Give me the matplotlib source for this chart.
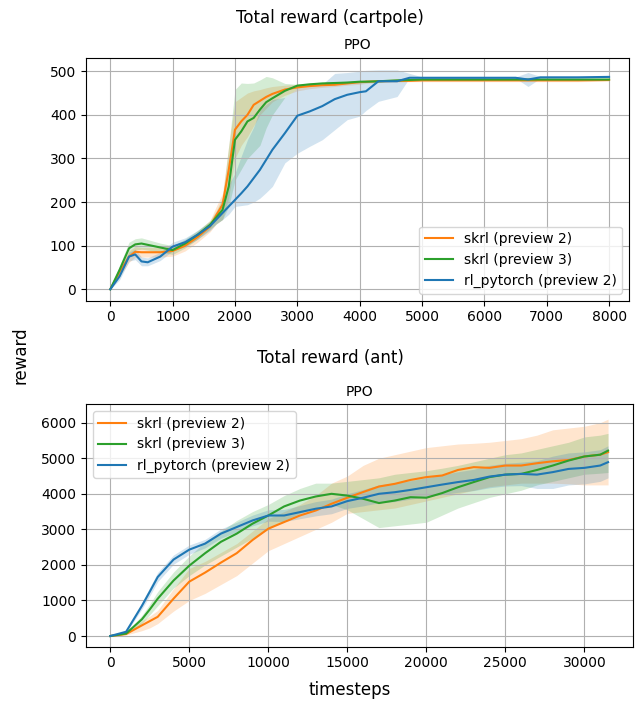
import matplotlib
matplotlib.use('Agg')
import numpy as np
import matplotlib.pyplot as plt

# cartpole data (timesteps, mean, lower, upper)
cp_x = [0, 150, 300, 400, 500, 600, 800, 1000, 1200, 1400, 1600, 1700, 1800, 1900, 2000,
        2100, 2200, 2300, 2400, 2500, 2600, 2800, 3000, 3200, 3400, 3600, 3800, 4000, 4100,
        4300, 4600, 4800, 5000, 5500, 6000, 6500, 6700, 6900, 7500, 8000]

cp_p2 = [0, 40, 75, 86, 85, 85, 85, 88, 100, 120, 144, 170, 194, 274, 366,
         385, 400, 423, 432, 441, 448, 458, 463, 466, 468, 469, 472, 475, 476,
         477, 478, 478, 479, 479, 479, 479, 479, 479, 479, 480]
cp_p2_lo = [0, 30, 62, 74, 74, 74, 74, 76, 88, 108, 132, 150, 160, 210, 300,
            330, 350, 375, 400, 415, 430, 445, 455, 460, 463, 465, 468, 470, 472,
            474, 475, 476, 476, 476, 476, 476, 476, 476, 476, 477]
cp_p2_hi = [0, 50, 88, 98, 96, 96, 96, 100, 112, 132, 158, 190, 220, 330, 430,
            440, 450, 455, 458, 462, 465, 468, 470, 472, 474, 475, 477, 478, 479,
            480, 481, 481, 482, 482, 482, 482, 482, 482, 482, 483]

cp_p3 = [0, 45, 94, 103, 105, 102, 96, 90, 105, 125, 148, 165, 182, 236, 343,
         362, 385, 393, 412, 429, 438, 455, 467, 470, 472, 473, 474, 476, 476,
         477, 479, 480, 481, 481, 481, 481, 481, 481, 481, 481]
cp_p3_lo = [0, 35, 80, 90, 92, 90, 85, 80, 95, 115, 138, 150, 160, 190, 250,
            275, 300, 315, 330, 370, 400, 440, 460, 465, 468, 470, 472, 473, 474,
            475, 477, 478, 479, 479, 479, 479, 479, 479, 479, 479]
cp_p3_hi = [0, 55, 108, 116, 118, 114, 106, 100, 115, 135, 158, 180, 210, 330, 458,
            473, 472, 473, 480, 488, 485, 472, 470, 473, 475, 476, 477, 478, 478,
            479, 481, 482, 483, 483, 483, 483, 483, 483, 483, 483]

cp_rl = [0, 30, 75, 80, 64, 62, 75, 98, 108, 125, 145, 160, 175, 190, 205,
         220, 236, 255, 274, 297, 320, 358, 398, 408, 420, 436, 446, 452, 454,
         477, 477, 485, 485, 485, 485, 485, 481, 486, 486, 487]
cp_rl_lo = [0, 22, 65, 68, 54, 54, 66, 88, 98, 115, 135, 150, 160, 172, 190,
            192, 194, 200, 209, 222, 236, 290, 312, 328, 343, 366, 389, 397, 410,
            431, 442, 485, 484, 484, 484, 484, 465, 484, 485, 486]
cp_rl_hi = [0, 38, 85, 92, 74, 72, 85, 108, 118, 135, 155, 172, 190, 240, 266,
            305, 343, 372, 412, 424, 435, 440, 460, 465, 470, 495, 497, 500, 502,
            503, 503, 495, 487, 487, 487, 487, 497, 488, 488, 488]

# ant data
ant_x = [0, 1000, 2000, 2500, 3000, 4000, 5000, 6000, 7000, 8000, 9000, 10000, 11000,
         12000, 13000, 14000, 15000, 16000, 17000, 18000, 19000, 20000, 21000, 22000,
         23000, 24000, 25000, 26000, 27000, 28000, 29000, 30000, 31000, 31500]

ant_p2 = [0, 56, 300, 420, 540, 1050, 1530, 1785, 2065, 2330, 2700, 3020, 3205,
          3390, 3530, 3720, 3890, 4050, 4205, 4280, 4390, 4470, 4515, 4670,
          4750, 4730, 4795, 4795, 4860, 4915, 4950, 5050, 5100, 5170]
ant_p2_lo = [0, 30, 150, 230, 350, 700, 1000, 1200, 1450, 1700, 2050, 2400, 2600,
             2800, 3000, 3200, 3450, 3500, 3550, 3600, 3700, 3800, 3900, 4000,
             4100, 4200, 4250, 4300, 4300, 4300, 4280, 4250, 4250, 4250]
ant_p2_hi = [0, 90, 420, 560, 720, 1330, 1900, 2100, 2350, 2600, 2950, 3300, 3500,
             3700, 3950, 4300, 4500, 4800, 5000, 5100, 5200, 5300, 5350, 5400,
             5420, 5450, 5500, 5550, 5650, 5800, 5850, 5900, 6000, 6100]

ant_p3 = [0, 70, 470, 750, 1050, 1560, 1980, 2330, 2650, 2880, 3160, 3390, 3645,
          3810, 3925, 4000, 3950, 3860, 3740, 3810, 3905, 3890, 4020, 4185,
          4330, 4470, 4540, 4560, 4670, 4795, 4935, 5050, 5100, 5215]
ant_p3_lo = [0, 50, 350, 600, 850, 1350, 1700, 2000, 2250, 2500, 2750, 3000, 3250,
             3450, 3600, 3700, 3550, 3300, 3050, 3100, 3150, 3200, 3400, 3600,
             3750, 3900, 4000, 4100, 4250, 4350, 4450, 4550, 4580, 4600]
ant_p3_hi = [0, 90, 580, 900, 1250, 1800, 2250, 2650, 2950, 3250, 3500, 3700, 3950,
             4150, 4300, 4300, 4350, 4400, 4450, 4550, 4600, 4650, 4720, 4800,
             4900, 5000, 5100, 5150, 5250, 5350, 5450, 5600, 5650, 5700]

ant_rl = [0, 120, 850, 1250, 1660, 2150, 2430, 2600, 2880, 3065, 3250, 3390, 3390,
          3485, 3580, 3645, 3795, 3890, 4000, 4045, 4110, 4185, 4260, 4330,
          4390, 4485, 4540, 4560, 4540, 4610, 4700, 4730, 4795, 4890]
ant_rl_lo = [0, 90, 760, 1130, 1530, 2020, 2300, 2480, 2750, 2930, 3100, 3230, 3220,
             3300, 3380, 3440, 3590, 3660, 3750, 3780, 3850, 3920, 3980, 4040,
             4090, 4170, 4220, 4230, 4150, 4150, 4250, 4280, 4350, 4450]
ant_rl_hi = [0, 150, 940, 1370, 1790, 2280, 2560, 2720, 3010, 3200, 3400, 3550, 3560,
             3670, 3780, 3850, 4000, 4120, 4250, 4310, 4370, 4450, 4540, 4620,
             4690, 4800, 4860, 4890, 4930, 5060, 5150, 5180, 5240, 5350]

labels = ['skrl (preview 2)', 'skrl (preview 3)', 'rl_pytorch (preview 2)']
colors = ['tab:orange', 'tab:green', 'tab:blue']

fig = plt.figure(figsize=(6.35, 7.02), dpi=100)
ax1 = fig.add_axes([0.1354, 0.5717, 0.8552, 0.3461])
ax2 = fig.add_axes([0.1354, 0.0788, 0.8615, 0.3457])

cp = [(cp_p2, cp_p2_lo, cp_p2_hi), (cp_p3, cp_p3_lo, cp_p3_hi), (cp_rl, cp_rl_lo, cp_rl_hi)]
ant = [(ant_p2, ant_p2_lo, ant_p2_hi), (ant_p3, ant_p3_lo, ant_p3_hi), (ant_rl, ant_rl_lo, ant_rl_hi)]

for ax, xs, series in [(ax1, cp_x, cp), (ax2, ant_x, ant)]:
    for (m, lo, hi), c, lab in zip(series, colors, labels):
        ax.plot(xs, m, color=c, linewidth=1.5, label=lab)
        ax.fill_between(xs, lo, hi, color=c, alpha=0.2, linewidth=0)
    ax.grid(True)
    ax.set_title('PPO', fontsize=10)

ax1.set_xlim(-390, 8320)
ax1.set_ylim(-26, 531)
ax1.set_xticks(range(0, 8001, 1000))
ax1.set_yticks(range(0, 501, 100))
ax1.legend(loc='lower right')

ax2.set_xlim(-1540, 33080)
ax2.set_ylim(-300, 6526)
ax2.set_xticks(range(0, 30001, 5000))
ax2.set_yticks(range(0, 6001, 1000))
ax2.legend(loc='upper left')

fig.text(0.52, 0.974, 'Total reward (cartpole)', ha='center', va='center', fontsize=12)
fig.text(0.521, 0.49, 'Total reward (ant)', ha='center', va='center', fontsize=12)
fig.text(0.0315, 0.494, 'reward', rotation=90, ha='center', va='center', fontsize=12)
fig.text(0.551, 0.017, 'timesteps', ha='center', va='center', fontsize=12)

plt.savefig('out.png', dpi=100)
